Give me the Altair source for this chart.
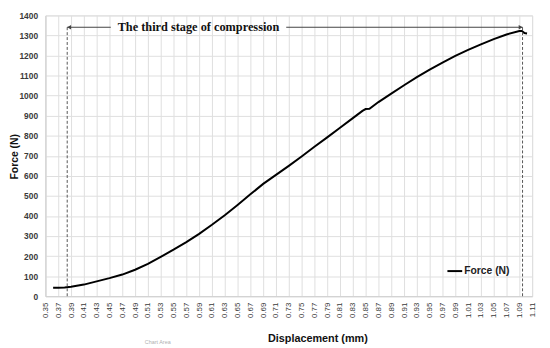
import altair as alt
import pandas as pd

# ---- data ----
displacement = [0.362, 0.370, 0.380, 0.390, 0.410, 0.430, 0.450, 0.470, 0.490, 0.510,
                0.530, 0.550, 0.570, 0.590, 0.610, 0.630, 0.650, 0.670, 0.690, 0.710,
                0.730, 0.750, 0.770, 0.790, 0.810, 0.830, 0.845, 0.850, 0.856, 0.870,
                0.890, 0.910, 0.930, 0.950, 0.970, 0.990, 1.010, 1.030, 1.050, 1.070,
                1.090, 1.094, 1.098, 1.102]
force = [42, 42, 43, 47, 58, 74, 90, 108, 132, 161,
         196, 232, 270, 311, 356, 404, 455, 508, 560, 605,
         650, 697, 745, 792, 840, 888, 924, 933, 934, 968,
         1010, 1052, 1092, 1130, 1165, 1198, 1228, 1256, 1282, 1305,
         1322, 1322, 1312, 1310]
series_name = "Force (N)"

x_ticks = [0.35, 0.37, 0.39, 0.41, 0.43, 0.45, 0.47, 0.49, 0.51, 0.53, 0.55, 0.57,
           0.59, 0.61, 0.63, 0.65, 0.67, 0.69, 0.71, 0.73, 0.75, 0.77, 0.79, 0.81,
           0.83, 0.85, 0.87, 0.89, 0.91, 0.93, 0.95, 0.97, 0.99, 1.01, 1.03, 1.05,
           1.07, 1.09, 1.11]
y_ticks = [0, 100, 200, 300, 400, 500, 600, 700, 800, 900, 1000, 1100, 1200, 1300, 1400]

# stage markers (dashed verticals) and annotation arrow
stage_x = [0.384, 1.095]
stage_top = [1345, 1345]
arrow_y = 1341
arrow_left = [0.384, 0.452]
arrow_right = [0.726, 1.095]
arrow_heads_x = [0.387, 1.092]
arrow_heads_shape = ["triangle-left", "triangle-right"]
annotation_text = "The third stage of compression"
annotation_x = 0.589

curve = pd.DataFrame({"x": displacement, "y": force, "series": [series_name] * len(force)})
stages = pd.DataFrame({"x": stage_x, "y0": [0, 0], "y1": stage_top})
arrows = pd.DataFrame({"x": [arrow_left[0], arrow_right[0]],
                       "x2": [arrow_left[1], arrow_right[1]],
                       "y": [arrow_y, arrow_y]})
heads = pd.DataFrame({"x": arrow_heads_x, "y": [arrow_y, arrow_y], "shape": arrow_heads_shape})
label = pd.DataFrame({"x": [annotation_x], "y": [arrow_y], "t": [annotation_text]})

xscale = alt.Scale(domain=[0.35, 1.11], nice=False, zero=False)
yscale = alt.Scale(domain=[0, 1400], nice=False)

grid = "#dedede"
lab_font = "Liberation Sans"

xaxis = alt.Axis(values=x_ticks, format=".2f", labelAngle=-90, labelFontSize=8,
                 labelFont=lab_font, labelColor="#3a3a3a", labelPadding=6,
                 ticks=False, grid=True, gridColor=grid, domainColor="#d0d0d0",
                 title="Displacement (mm)", titleFont=lab_font, titleFontSize=11,
                 titleFontWeight="bold", titleColor="#111", titleX=276, titleY=46,
                 titleBaseline="alphabetic", labelFlush=False, labelOverlap=False)
yaxis = alt.Axis(values=y_ticks, format="d", labelFontSize=8.5, labelFont=lab_font,
                 labelFontWeight="bold", labelColor="#3a3a3a", labelPadding=8,
                 ticks=False, grid=True, gridColor=grid, domainColor="#d0d0d0",
                 title="Force (N)", titleFont=lab_font, titleFontSize=10.5,
                 titleFontWeight="bold", titleColor="#111", titleX=-31, titleY=143,
                 titleBaseline="middle", labelFlush=False, labelOverlap=False)

line = alt.Chart(curve).mark_line(strokeWidth=2).encode(
    x=alt.X("x:Q", scale=xscale, axis=xaxis),
    y=alt.Y("y:Q", scale=yscale, axis=yaxis),
    color=alt.Color("series:N", scale=alt.Scale(range=["#000000"]),
                    legend=alt.Legend(title=None, orient="none", legendX=407, legendY=251,
                                      symbolType="stroke", symbolStrokeWidth=2,
                                      symbolSize=225, labelFont=lab_font,
                                      labelFontSize=10.5, labelFontWeight="bold",
                                      labelColor="#222", labelOffset=1, padding=0)),
)

dashed = alt.Chart(stages).mark_rule(strokeDash=[3, 2], color="#555555", strokeWidth=1).encode(
    x=alt.X("x:Q", scale=xscale, axis=xaxis),
    y=alt.Y("y0:Q", scale=yscale, axis=yaxis), y2="y1:Q")

arrow_lines = alt.Chart(arrows).mark_rule(color="#444444", strokeWidth=1.2).encode(
    x=alt.X("x:Q", scale=xscale, axis=xaxis), x2="x2:Q",
    y=alt.Y("y:Q", scale=yscale, axis=yaxis))

arrow_pts = alt.Chart(heads).mark_point(filled=True, size=20, color="#444444", opacity=1).encode(
    x=alt.X("x:Q", scale=xscale, axis=xaxis),
    y=alt.Y("y:Q", scale=yscale, axis=yaxis),
    shape=alt.Shape("shape:N", scale=alt.Scale(domain=arrow_heads_shape, range=arrow_heads_shape),
                    legend=None))

text = alt.Chart(label).mark_text(font="Liberation Serif", fontSize=12.5, fontWeight="bold",
                                  color="#111", baseline="middle", align="center").encode(
    x=alt.X("x:Q", scale=xscale, axis=xaxis),
    y=alt.Y("y:Q", scale=yscale, axis=yaxis), text="t:N")

ghost = alt.Chart(pd.DataFrame({"t": ["Chart Area"]})).mark_text(
    fontSize=5.5, color="#b0b0b0", font=lab_font).encode(
    x=alt.value(114), y=alt.value(332), text="t:N")

chart = alt.layer(line, dashed, arrow_lines, arrow_pts, text, ghost).properties(
    width=494, height=285,
    padding={"left": 38, "top": 5, "right": 10, "bottom": 48},
    autosize=alt.AutoSizeParams(type="none"),
).configure_view(stroke="transparent").configure(background="white")

chart.save("out.html", embed_options={"renderer": "svg", "actions": False})
